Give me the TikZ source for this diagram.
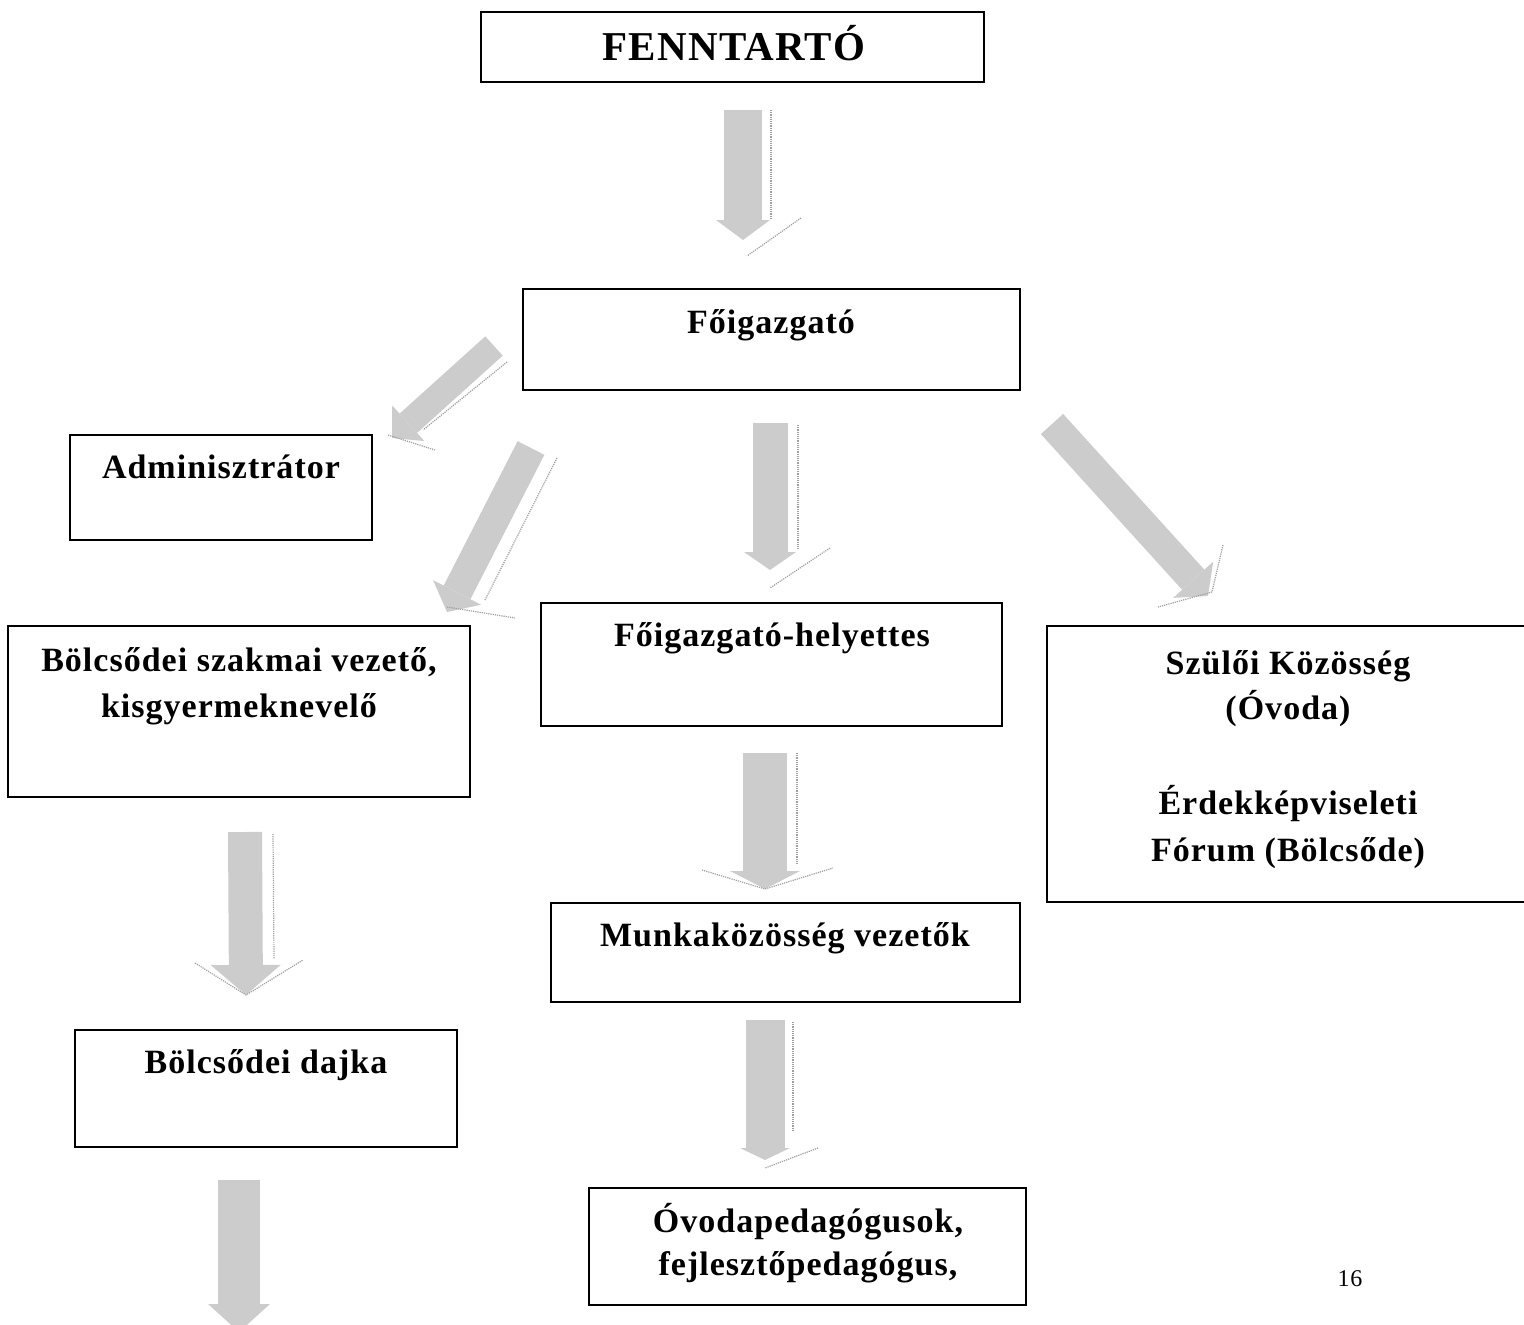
\documentclass[tikz,border=0pt]{standalone}
\usepackage{fontspec}
\setmainfont{Liberation Serif}
\newfontfamily\lblfont{Liberation Serif}[LetterSpace=3]
\usetikzlibrary{arrows.meta}
\definecolor{arrgray}{gray}{0.8}
\begin{document}
\begin{tikzpicture}[x=1pt,y=-1pt,
  box/.style={draw=black, line width=1.3pt, inner sep=0pt, outer sep=0pt, rectangle},
  lbl/.style={font=\lblfont\bfseries\fontsize{34}{40}\selectfont, inner sep=0pt, anchor=base},
  barrow/.style n args={3}{draw=arrgray, line width=#1, -{Triangle[width=#2, length=#3, line width=0pt]}},
  shadowln/.style={draw=gray!75, line width=1.2pt, densely dotted},
]
\useasboundingbox (0,0) rectangle (1524,1325);
\clip (0,0) rectangle (1524,1325);

% boxes
\node[box, minimum width=503pt, minimum height=70pt]  (fenn)   at (732.5,47) {};
\node[box, minimum width=497pt, minimum height=101pt] (foig)   at (771.5,339.5) {};
\node[box, minimum width=302pt, minimum height=105pt] (admin)  at (221,487.5) {};
\node[box, minimum width=462pt, minimum height=171pt] (bolcsv) at (239,711.5) {};
\node[box, minimum width=461pt, minimum height=123pt] (hely)   at (771.5,664.5) {};
\node[box, minimum width=493pt, minimum height=276pt] (szul)   at (1293.5,764) {};
\node[box, minimum width=469pt, minimum height=99pt]  (munka)  at (785.5,952.5) {};
\node[box, minimum width=382pt, minimum height=117pt] (dajka)  at (266,1088.5) {};
\node[box, minimum width=437pt, minimum height=117pt] (ovoda)  at (807.5,1246.5) {};

% texts
\node[lbl, font=\lblfont\bfseries\fontsize{41}{48}\selectfont] (t-fenn) at (734,60) {FENNTARTÓ};
\node[lbl] (t-foig)  at (771,333) {Főigazgató};
\node[lbl] (t-admin) at (221,478) {Adminisztrátor};
\node[lbl] (t-bv1)   at (239,671) {Bölcsődei szakmai vezető,};
\node[lbl] (t-bv2)   at (239,717) {kisgyermeknevelő};
\node[lbl] (t-hely)  at (772,646) {Főigazgató-helyettes};
\node[lbl] (t-sz1)   at (1288,674) {Szülői Közösség};
\node[lbl] (t-sz2)   at (1288,719) {(Óvoda)};
\node[lbl] (t-sz3)   at (1288,814) {Érdekképviseleti};
\node[lbl] (t-sz4)   at (1288,861) {Fórum (Bölcsőde)};
\node[lbl] (t-munka) at (785,946) {Munkaközösség vezetők};
\node[lbl] (t-dajka) at (266,1073) {Bölcsődei dajka};
\node[lbl] (t-ov1)   at (808,1232) {Óvodapedagógusok,};
\node[lbl] (t-ov2)   at (808,1275) {fejlesztőpedagógus,};
\node[inner sep=0pt, anchor=base, font=\lblfont\fontsize{24}{28}\selectfont] (t-page) at (1350,1286) {16};

% arrow end points
\coordinate (a1s) at (743,110);  \coordinate (a1e) at (743,240);
\coordinate (a2s) at (494,346);  \coordinate (a2e) at (392,438);
\coordinate (a3s) at (531,448);  \coordinate (a3e) at (447,612);
\coordinate (a4s) at (770,423);  \coordinate (a4e) at (770,570);
\coordinate (a5s) at (1052,424); \coordinate (a5e) at (1208,596);
\coordinate (a6s) at (245,832);  \coordinate (a6e) at (246,995);
\coordinate (a7s) at (765,753);  \coordinate (a7e) at (765,889);
\coordinate (a8s) at (765,1020); \coordinate (a8e) at (765,1160);
\coordinate (a9s) at (239,1180); \coordinate (a9e) at (239,1332);

% block arrows
\draw[barrow={38pt}{54pt}{20pt}] (a1s) -- (a1e);
\draw[barrow={26pt}{48pt}{22pt}] (a2s) -- (a2e);
\draw[barrow={30pt}{54pt}{22pt}] (a3s) -- (a3e);
\draw[barrow={35pt}{52pt}{18pt}] (a4s) -- (a4e);
\draw[barrow={30pt}{54pt}{22pt}] (a5s) -- (a5e);
\draw[barrow={34pt}{70pt}{30pt}] (a6s) -- (a6e);
\draw[barrow={44pt}{70pt}{18pt}] (a7s) -- (a7e);
\draw[barrow={39pt}{50pt}{12pt}] (a8s) -- (a8e);
\draw[barrow={42pt}{62pt}{28pt}] (a9s) -- (a9e);

% shadows
\draw[shadowln] ([shift={(28,0)}]a1s) -- ([shift={(28,-22)}]a1e);
\draw[shadowln] ([shift={(58,-22)}]a1e) -- ([shift={(4,16)}]a1e);
\draw[shadowln] ([shift={(13,16)}]a2s) -- ([shift={(31,-8)}]a2e);
\draw[shadowln] ([shift={(-4,-3)}]a2e) -- ([shift={(43,12)}]a2e);
\draw[shadowln] ([shift={(26,10)}]a3s) -- ([shift={(38,-12)}]a3e);
\draw[shadowln] ([shift={(0,-5)}]a3e) -- ([shift={(68,6)}]a3e);
\draw[shadowln] ([shift={(28,2)}]a4s) -- ([shift={(28,-20)}]a4e);
\draw[shadowln] ([shift={(60,-22)}]a4e) -- ([shift={(0,18)}]a4e);
\draw[shadowln] ([shift={(15,-51)}]a5e) -- ([shift={(4,-4)}]a5e) -- ([shift={(-50,11)}]a5e);
\draw[shadowln] ([shift={(28,2)}]a6s) -- ([shift={(28,-36)}]a6e);
\draw[shadowln] ([shift={(-51,-32)}]a6e) -- (a6e) -- ([shift={(57,-35)}]a6e);
\draw[shadowln] ([shift={(32,0)}]a7s) -- ([shift={(32,-24)}]a7e);
\draw[shadowln] ([shift={(-63,-19)}]a7e) -- (a7e) -- ([shift={(68,-21)}]a7e);
\draw[shadowln] ([shift={(28,2)}]a8s) -- ([shift={(28,-30)}]a8e);
\draw[shadowln] ([shift={(53,-12)}]a8e) -- ([shift={(0,8)}]a8e);
\end{tikzpicture}
\end{document}
